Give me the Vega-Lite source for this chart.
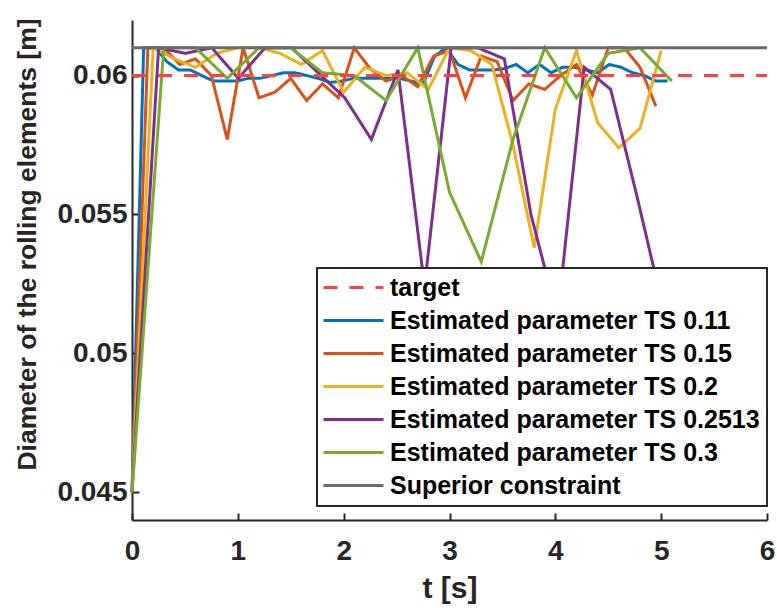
{
  "$schema": "https://vega.github.io/schema/vega-lite/v6.json",
  "autosize": {"type": "none"},
  "width": 635,
  "height": 500,
  "padding": {"left": 132, "top": 20, "right": 10, "bottom": 88},
  "background": "white",
  "config": {
    "view": {"stroke": null},
    "font": "Liberation Sans",
    "axis": {
      "grid": false,
      "domainColor": "#262626",
      "domainWidth": 2,
      "tickColor": "#262626",
      "tickWidth": 2,
      "tickSize": -7,
      "labelFont": "Liberation Sans",
      "labelFontWeight": "bold",
      "labelFontSize": 28,
      "labelColor": "#262626",
      "titleFont": "Liberation Sans",
      "titleFontWeight": "bold",
      "titleColor": "#262626"
    }
  },
  "data": {
    "values": [
      {"s": "Estimated parameter TS 0.11", "t": 0, "v": 0.045},
      {"s": "Estimated parameter TS 0.11", "t": 0.11, "v": 0.061},
      {"s": "Estimated parameter TS 0.11", "t": 0.22, "v": 0.061},
      {"s": "Estimated parameter TS 0.11", "t": 0.33, "v": 0.0605},
      {"s": "Estimated parameter TS 0.11", "t": 0.44, "v": 0.0602},
      {"s": "Estimated parameter TS 0.11", "t": 0.55, "v": 0.0602},
      {"s": "Estimated parameter TS 0.11", "t": 0.66, "v": 0.06},
      {"s": "Estimated parameter TS 0.11", "t": 0.77, "v": 0.0598},
      {"s": "Estimated parameter TS 0.11", "t": 0.88, "v": 0.0598},
      {"s": "Estimated parameter TS 0.11", "t": 0.99, "v": 0.0598},
      {"s": "Estimated parameter TS 0.11", "t": 1.1, "v": 0.0599},
      {"s": "Estimated parameter TS 0.11", "t": 1.21, "v": 0.0599},
      {"s": "Estimated parameter TS 0.11", "t": 1.32, "v": 0.06},
      {"s": "Estimated parameter TS 0.11", "t": 1.43, "v": 0.0601},
      {"s": "Estimated parameter TS 0.11", "t": 1.54, "v": 0.0601},
      {"s": "Estimated parameter TS 0.11", "t": 1.65, "v": 0.06},
      {"s": "Estimated parameter TS 0.11", "t": 1.76, "v": 0.0599},
      {"s": "Estimated parameter TS 0.11", "t": 1.87, "v": 0.05975},
      {"s": "Estimated parameter TS 0.11", "t": 1.98, "v": 0.0598},
      {"s": "Estimated parameter TS 0.11", "t": 2.09, "v": 0.0599},
      {"s": "Estimated parameter TS 0.11", "t": 2.2, "v": 0.0599},
      {"s": "Estimated parameter TS 0.11", "t": 2.31, "v": 0.0599},
      {"s": "Estimated parameter TS 0.11", "t": 2.42, "v": 0.0599},
      {"s": "Estimated parameter TS 0.11", "t": 2.53, "v": 0.0599},
      {"s": "Estimated parameter TS 0.11", "t": 2.64, "v": 0.0598},
      {"s": "Estimated parameter TS 0.11", "t": 2.75, "v": 0.0597},
      {"s": "Estimated parameter TS 0.11", "t": 2.86, "v": 0.0607},
      {"s": "Estimated parameter TS 0.11", "t": 2.97, "v": 0.061},
      {"s": "Estimated parameter TS 0.11", "t": 3.08, "v": 0.0604},
      {"s": "Estimated parameter TS 0.11", "t": 3.19, "v": 0.0602},
      {"s": "Estimated parameter TS 0.11", "t": 3.3, "v": 0.0602},
      {"s": "Estimated parameter TS 0.11", "t": 3.41, "v": 0.0602},
      {"s": "Estimated parameter TS 0.11", "t": 3.52, "v": 0.06025},
      {"s": "Estimated parameter TS 0.11", "t": 3.63, "v": 0.0604},
      {"s": "Estimated parameter TS 0.11", "t": 3.74, "v": 0.0601},
      {"s": "Estimated parameter TS 0.11", "t": 3.85, "v": 0.0604},
      {"s": "Estimated parameter TS 0.11", "t": 3.96, "v": 0.0601},
      {"s": "Estimated parameter TS 0.11", "t": 4.07, "v": 0.0603},
      {"s": "Estimated parameter TS 0.11", "t": 4.18, "v": 0.0603},
      {"s": "Estimated parameter TS 0.11", "t": 4.29, "v": 0.0602},
      {"s": "Estimated parameter TS 0.11", "t": 4.4, "v": 0.0601},
      {"s": "Estimated parameter TS 0.11", "t": 4.51, "v": 0.0604},
      {"s": "Estimated parameter TS 0.11", "t": 4.62, "v": 0.0603},
      {"s": "Estimated parameter TS 0.11", "t": 4.73, "v": 0.0601},
      {"s": "Estimated parameter TS 0.11", "t": 4.84, "v": 0.06},
      {"s": "Estimated parameter TS 0.11", "t": 4.95, "v": 0.0598},
      {"s": "Estimated parameter TS 0.11", "t": 5.06, "v": 0.0598},

      {"s": "Estimated parameter TS 0.15", "t": 0, "v": 0.045},
      {"s": "Estimated parameter TS 0.15", "t": 0.15, "v": 0.061},
      {"s": "Estimated parameter TS 0.15", "t": 0.3, "v": 0.061},
      {"s": "Estimated parameter TS 0.15", "t": 0.45, "v": 0.0604},
      {"s": "Estimated parameter TS 0.15", "t": 0.6, "v": 0.0606},
      {"s": "Estimated parameter TS 0.15", "t": 0.75, "v": 0.06},
      {"s": "Estimated parameter TS 0.15", "t": 0.9, "v": 0.0577},
      {"s": "Estimated parameter TS 0.15", "t": 1.05, "v": 0.061},
      {"s": "Estimated parameter TS 0.15", "t": 1.2, "v": 0.0592},
      {"s": "Estimated parameter TS 0.15", "t": 1.35, "v": 0.0594},
      {"s": "Estimated parameter TS 0.15", "t": 1.5, "v": 0.0599},
      {"s": "Estimated parameter TS 0.15", "t": 1.65, "v": 0.0591},
      {"s": "Estimated parameter TS 0.15", "t": 1.8, "v": 0.0597},
      {"s": "Estimated parameter TS 0.15", "t": 1.95, "v": 0.0592},
      {"s": "Estimated parameter TS 0.15", "t": 2.1, "v": 0.061},
      {"s": "Estimated parameter TS 0.15", "t": 2.25, "v": 0.06025},
      {"s": "Estimated parameter TS 0.15", "t": 2.4, "v": 0.0598},
      {"s": "Estimated parameter TS 0.15", "t": 2.55, "v": 0.06},
      {"s": "Estimated parameter TS 0.15", "t": 2.7, "v": 0.0596},
      {"s": "Estimated parameter TS 0.15", "t": 2.85, "v": 0.0607},
      {"s": "Estimated parameter TS 0.15", "t": 3.0, "v": 0.0609},
      {"s": "Estimated parameter TS 0.15", "t": 3.15, "v": 0.0592},
      {"s": "Estimated parameter TS 0.15", "t": 3.3, "v": 0.0607},
      {"s": "Estimated parameter TS 0.15", "t": 3.45, "v": 0.0605},
      {"s": "Estimated parameter TS 0.15", "t": 3.6, "v": 0.0591},
      {"s": "Estimated parameter TS 0.15", "t": 3.75, "v": 0.0597},
      {"s": "Estimated parameter TS 0.15", "t": 3.9, "v": 0.0595},
      {"s": "Estimated parameter TS 0.15", "t": 4.05, "v": 0.06},
      {"s": "Estimated parameter TS 0.15", "t": 4.2, "v": 0.0604},
      {"s": "Estimated parameter TS 0.15", "t": 4.35, "v": 0.0593},
      {"s": "Estimated parameter TS 0.15", "t": 4.5, "v": 0.061},
      {"s": "Estimated parameter TS 0.15", "t": 4.65, "v": 0.061},
      {"s": "Estimated parameter TS 0.15", "t": 4.8, "v": 0.0603},
      {"s": "Estimated parameter TS 0.15", "t": 4.95, "v": 0.0589},

      {"s": "Estimated parameter TS 0.2", "t": 0, "v": 0.045},
      {"s": "Estimated parameter TS 0.2", "t": 0.2, "v": 0.061},
      {"s": "Estimated parameter TS 0.2", "t": 0.4, "v": 0.0606},
      {"s": "Estimated parameter TS 0.2", "t": 0.6, "v": 0.0603},
      {"s": "Estimated parameter TS 0.2", "t": 0.8, "v": 0.0608},
      {"s": "Estimated parameter TS 0.2", "t": 1.0, "v": 0.061},
      {"s": "Estimated parameter TS 0.2", "t": 1.2, "v": 0.061},
      {"s": "Estimated parameter TS 0.2", "t": 1.4, "v": 0.0608},
      {"s": "Estimated parameter TS 0.2", "t": 1.6, "v": 0.0604},
      {"s": "Estimated parameter TS 0.2", "t": 1.8, "v": 0.0609},
      {"s": "Estimated parameter TS 0.2", "t": 2.0, "v": 0.0594},
      {"s": "Estimated parameter TS 0.2", "t": 2.2, "v": 0.0603},
      {"s": "Estimated parameter TS 0.2", "t": 2.4, "v": 0.06},
      {"s": "Estimated parameter TS 0.2", "t": 2.6, "v": 0.0601},
      {"s": "Estimated parameter TS 0.2", "t": 2.8, "v": 0.0595},
      {"s": "Estimated parameter TS 0.2", "t": 3.0, "v": 0.061},
      {"s": "Estimated parameter TS 0.2", "t": 3.2, "v": 0.0609},
      {"s": "Estimated parameter TS 0.2", "t": 3.4, "v": 0.0604},
      {"s": "Estimated parameter TS 0.2", "t": 3.6, "v": 0.0575},
      {"s": "Estimated parameter TS 0.2", "t": 3.8, "v": 0.0538},
      {"s": "Estimated parameter TS 0.2", "t": 4.0, "v": 0.0588},
      {"s": "Estimated parameter TS 0.2", "t": 4.2, "v": 0.0609},
      {"s": "Estimated parameter TS 0.2", "t": 4.4, "v": 0.0583},
      {"s": "Estimated parameter TS 0.2", "t": 4.6, "v": 0.0574},
      {"s": "Estimated parameter TS 0.2", "t": 4.8, "v": 0.0581},
      {"s": "Estimated parameter TS 0.2", "t": 5.0, "v": 0.0609},

      {"s": "Estimated parameter TS 0.2513", "t": 0, "v": 0.045},
      {"s": "Estimated parameter TS 0.2513", "t": 0.2513, "v": 0.061},
      {"s": "Estimated parameter TS 0.2513", "t": 0.5026, "v": 0.0608},
      {"s": "Estimated parameter TS 0.2513", "t": 0.7539, "v": 0.061},
      {"s": "Estimated parameter TS 0.2513", "t": 1.0052, "v": 0.0599},
      {"s": "Estimated parameter TS 0.2513", "t": 1.2565, "v": 0.061},
      {"s": "Estimated parameter TS 0.2513", "t": 1.5078, "v": 0.061},
      {"s": "Estimated parameter TS 0.2513", "t": 1.7591, "v": 0.0601},
      {"s": "Estimated parameter TS 0.2513", "t": 2.0104, "v": 0.0592},
      {"s": "Estimated parameter TS 0.2513", "t": 2.2617, "v": 0.0577},
      {"s": "Estimated parameter TS 0.2513", "t": 2.513, "v": 0.0602},
      {"s": "Estimated parameter TS 0.2513", "t": 2.7643, "v": 0.0524},
      {"s": "Estimated parameter TS 0.2513", "t": 3.0156, "v": 0.061},
      {"s": "Estimated parameter TS 0.2513", "t": 3.2669, "v": 0.061},
      {"s": "Estimated parameter TS 0.2513", "t": 3.5182, "v": 0.0606},
      {"s": "Estimated parameter TS 0.2513", "t": 3.7695, "v": 0.055},
      {"s": "Estimated parameter TS 0.2513", "t": 4.0208, "v": 0.0513},
      {"s": "Estimated parameter TS 0.2513", "t": 4.2721, "v": 0.0603},
      {"s": "Estimated parameter TS 0.2513", "t": 4.5234, "v": 0.0595},
      {"s": "Estimated parameter TS 0.2513", "t": 4.7747, "v": 0.0556},
      {"s": "Estimated parameter TS 0.2513", "t": 5.026, "v": 0.0515},

      {"s": "Estimated parameter TS 0.3", "t": 0, "v": 0.045},
      {"s": "Estimated parameter TS 0.3", "t": 0.3, "v": 0.061},
      {"s": "Estimated parameter TS 0.3", "t": 0.6, "v": 0.061},
      {"s": "Estimated parameter TS 0.3", "t": 0.9, "v": 0.0599},
      {"s": "Estimated parameter TS 0.3", "t": 1.2, "v": 0.061},
      {"s": "Estimated parameter TS 0.3", "t": 1.5, "v": 0.061},
      {"s": "Estimated parameter TS 0.3", "t": 1.8, "v": 0.0601},
      {"s": "Estimated parameter TS 0.3", "t": 2.1, "v": 0.06},
      {"s": "Estimated parameter TS 0.3", "t": 2.4, "v": 0.0591},
      {"s": "Estimated parameter TS 0.3", "t": 2.7, "v": 0.061},
      {"s": "Estimated parameter TS 0.3", "t": 3.0, "v": 0.0558},
      {"s": "Estimated parameter TS 0.3", "t": 3.3, "v": 0.0533},
      {"s": "Estimated parameter TS 0.3", "t": 3.6, "v": 0.0577},
      {"s": "Estimated parameter TS 0.3", "t": 3.9, "v": 0.061},
      {"s": "Estimated parameter TS 0.3", "t": 4.2, "v": 0.0592},
      {"s": "Estimated parameter TS 0.3", "t": 4.5, "v": 0.0608},
      {"s": "Estimated parameter TS 0.3", "t": 4.8, "v": 0.061},
      {"s": "Estimated parameter TS 0.3", "t": 5.1, "v": 0.0598},

      {"s": "Superior constraint", "t": 0, "v": 0.061},
      {"s": "Superior constraint", "t": 6, "v": 0.061},
      {"s": "target", "t": 0, "v": 0.06},
      {"s": "target", "t": 6, "v": 0.06}
    ]
  },
  "encoding": {
    "x": {
      "field": "t", "type": "quantitative",
      "scale": {"domain": [0, 6], "nice": false},
      "axis": {"values": [0, 1, 2, 3, 4, 5, 6], "title": "t [s]", "titleFontSize": 30, "labelPadding": 24, "titleX": 317.5, "titleY": 77, "titleBaseline": "alphabetic", "labelFlush": false}
    },
    "y": {
      "field": "v", "type": "quantitative",
      "scale": {"domain": [0.044, 0.062], "nice": false, "zero": false},
      "axis": {"values": [0.045, 0.05, 0.055, 0.06], "format": ".3~f", "title": "Diameter of the rolling elements [m]", "titleFontSize": 26.5, "labelPadding": 12, "titleX": -105, "titleY": 224, "titleBaseline": "middle"}
    },
    "color": {
      "field": "s", "type": "nominal",
      "scale": {
        "domain": ["target", "Estimated parameter TS 0.11", "Estimated parameter TS 0.15", "Estimated parameter TS 0.2", "Estimated parameter TS 0.2513", "Estimated parameter TS 0.3", "Superior constraint"],
        "range": ["#ff4040", "#0072BD", "#D95319", "#EDB120", "#7E2F8E", "#77AC30", "#6b6b6b"]
      },
      "legend": {
        "title": null,
        "orient": "none",
        "legendX": 185,
        "legendY": 248,
        "fillColor": "white",
        "strokeColor": "#262626",
        "padding": 7,
        "symbolType": "M-3,0H3",
        "symbolSize": 400,
        "symbolOffset": 17,
        "symbolStrokeWidth": 3,
        "labelFont": "Liberation Sans",
        "labelFontWeight": "bold",
        "labelFontSize": 25,
        "labelColor": "black",
        "labelLimit": 1000,
        "labelOffset": 24,
        "rowPadding": 7,
        "encode": {"legend": {"update": {"strokeWidth": {"value": 2}}}}
      }
    },
    "strokeDash": {
      "field": "s", "type": "nominal",
      "scale": {
        "domain": ["target", "Estimated parameter TS 0.11", "Estimated parameter TS 0.15", "Estimated parameter TS 0.2", "Estimated parameter TS 0.2513", "Estimated parameter TS 0.3", "Superior constraint"],
        "range": [[14, 12], [1, 0], [1, 0], [1, 0], [1, 0], [1, 0], [1, 0]]
      },
      "legend": null
    }
  },
  "layer": [
    {
      "transform": [{"filter": "datum.s !== 'target' && datum.s !== 'Superior constraint'"}],
      "mark": {"type": "line", "strokeWidth": 3}
    },
    {
      "transform": [{"filter": "datum.s === 'Superior constraint'"}],
      "mark": {"type": "line", "strokeWidth": 3}
    },
    {
      "transform": [{"filter": "datum.s === 'target'"}],
      "mark": {"type": "line", "strokeWidth": 3}
    }
  ]
}
